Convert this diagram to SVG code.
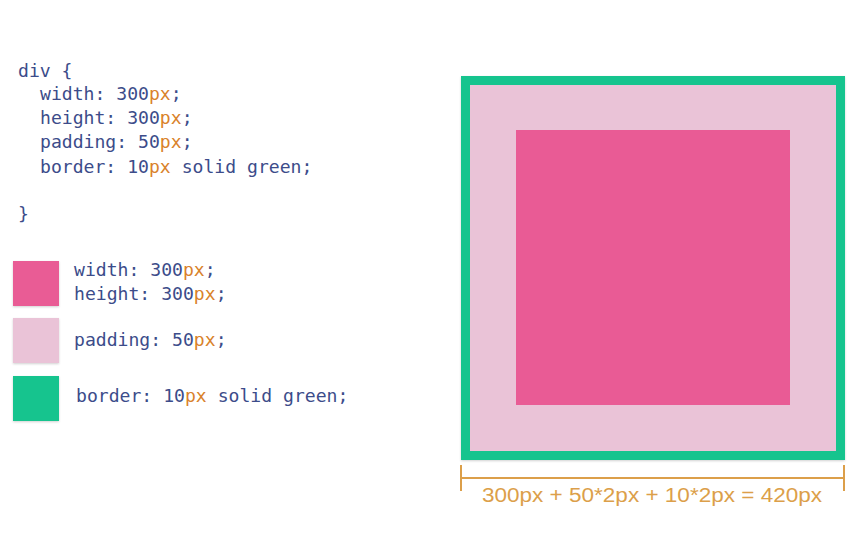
<svg xmlns="http://www.w3.org/2000/svg" width="868" height="546" viewBox="0 0 868 546">
<defs>
<style>
.code{font-family:"DejaVu Sans Mono","Liberation Mono",monospace;font-size:18.1px;fill:#3c4c8a;}
.px{fill:#d9822b;}
.dim{font-family:"Liberation Sans","Helvetica",sans-serif;font-size:20px;fill:#dc9f4a;}
.green{fill:#15c48e;}
.pad{fill:#eac3d7;}
.content{fill:#e95b95;}
.tick{stroke:#dc9f4a;stroke-width:2;fill:none;}
</style>
<filter id="sh" x="-5%" y="-5%" width="110%" height="110%">
<feDropShadow dx="0" dy="1" stdDeviation="1" flood-color="#000" flood-opacity="0.18"/>
</filter>
</defs>
<rect width="868" height="546" fill="#ffffff"/>
<g id="code">
<text class="code" x="18" y="77">div {</text>
<text class="code" x="40" y="100">width: 300<tspan class="px">px</tspan>;</text>
<text class="code" x="40" y="124">height: 300<tspan class="px">px</tspan>;</text>
<text class="code" x="40" y="148">padding: 50<tspan class="px">px</tspan>;</text>
<text class="code" x="40" y="173">border: 10<tspan class="px">px</tspan> solid green;</text>
<text class="code" x="18" y="220">}</text>
</g>
<g id="legend-content">
<rect class="content" x="13" y="261" width="46" height="45" filter="url(#sh)"/>
<text class="code" x="74" y="276">width: 300<tspan class="px">px</tspan>;</text>
<text class="code" x="74" y="300">height: 300<tspan class="px">px</tspan>;</text>
</g>
<g id="legend-padding">
<rect class="pad" x="13" y="318" width="46" height="45" filter="url(#sh)"/>
<text class="code" x="74" y="346">padding: 50<tspan class="px">px</tspan>;</text>
</g>
<g id="legend-border">
<rect class="green" x="13" y="376" width="46" height="45" filter="url(#sh)"/>
<text class="code" x="76" y="402">border: 10<tspan class="px">px</tspan> solid green;</text>
</g>
<g id="box">
<rect class="green" x="461" y="76" width="384" height="384" filter="url(#sh)"/>
<rect class="pad" x="470" y="85" width="366" height="366"/>
<rect class="content" x="516" y="130" width="274" height="275"/>
</g>
<g id="dimension">
<path class="tick" d="M461 465V491M844 465V491M461 478H844"/>
<text class="dim" x="652" y="502" text-anchor="middle" textLength="340" lengthAdjust="spacingAndGlyphs">300px + 50*2px + 10*2px = 420px</text>
</g>
</svg>
